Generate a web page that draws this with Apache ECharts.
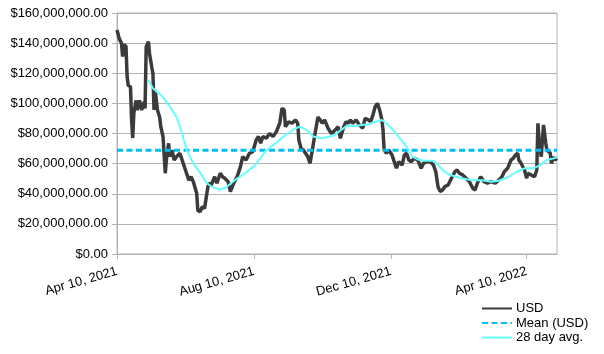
<!DOCTYPE html>
<html>
<head>
<meta charset="utf-8">
<script src="https://cdn.jsdelivr.net/npm/echarts@6/dist/echarts.min.js"></script>
<style>
  html, body { margin: 0; padding: 0; background: #fff; }
  #chart { width: 604px; height: 354px; }
</style>
</head>
<body>
<div id="chart"></div>
<script>
// x values are days counted from Apr 10, 2021
var tickDays = [0, 122, 244, 365];
var tickLabels = ['Apr 10, 2021', 'Aug 10, 2021', 'Dec 10, 2021', 'Apr 10, 2022'];

// daily USD (millions)
var usdDays = [0, 1, 2, 4, 5, 6, 8, 9, 10, 12, 13, 14, 15, 17, 18, 20, 22, 24, 25, 26,
  28, 29, 31, 32, 33, 34, 36, 38, 39, 41, 43, 44, 46, 47, 49, 51, 53, 56, 59, 61,
  64, 66, 68, 71, 72, 74, 76, 78, 81, 82, 84, 87, 89, 92, 94, 96, 99, 101, 104, 107,
  110, 112, 115, 118, 121, 124, 126, 128, 130, 133, 136, 139, 142, 145, 147, 149, 150, 153, 156, 159,
  161, 162, 164, 166, 168, 170, 172, 174, 176, 179, 181, 183, 185, 188, 191, 193, 197, 199, 202, 204,
  206, 208, 210, 213, 216, 219, 221, 224, 226, 228, 230, 232, 234, 236, 237, 238, 240, 242, 245, 247,
  249, 251, 254, 256, 258, 260, 262, 265, 268, 271, 273, 276, 279, 282, 284, 286, 288, 290, 292, 295,
  298, 301, 303, 305, 308, 311, 314, 317, 319, 321, 324, 327, 330, 333, 337, 340, 343, 345, 348, 351,
  353, 355, 357, 358, 360, 363, 365, 366, 369, 372, 374, 375, 376, 378, 379, 380, 382, 383, 386, 387,
  389, 390, 392];
var usdValues = [148.7, 150, 143, 140, 131, 139, 138, 118, 112, 111, 89, 77, 93.4, 102, 95.6, 102, 95.6, 101, 96.7, 137.6,
  141, 133, 124, 120, 95.6, 109, 95.6, 91, 84.5, 78, 53.6, 62.4, 73.5, 64.6, 69, 62.4, 64.6, 66.9, 60.2, 55.8,
  49, 51.3, 48, 40.3, 29, 28, 31.4, 30.3, 44.7, 47, 45.8, 51.3, 47, 53.6, 51.3, 50.3, 48, 41.4, 47, 51.3,
  58, 64.6, 62.4, 66.9, 68, 75.7, 78, 73.5, 78, 76.8, 80, 78, 81.2, 86.8, 96.7, 95.6, 84.5, 87.8, 86.8, 89,
  86.8, 75.7, 70, 69, 66.9, 64.6, 60.2, 69, 78, 91, 89, 86.8, 89, 83.5, 80, 81.2, 84.5, 76.8, 84.5, 87.8,
  86.8, 89, 86.8, 89, 85.7, 83.5, 90, 89, 87.8, 92.3, 97.8, 100, 95.6, 89, 82.3, 69, 66.9, 69, 65.7, 61.3,
  56.9, 61.3, 59, 65.7, 66.9, 62.4, 61.3, 63.5, 62.4, 56.9, 60.2, 61.3, 61.3, 59, 54.6, 44.7, 41.4, 42.5, 44.7, 45.8,
  50.3, 54.6, 55.8, 53.6, 52.5, 50.3, 48, 43.6, 42.5, 47, 51.3, 48, 47, 48, 47, 49, 51.3, 54.6, 56.9, 62.4,
  63.5, 65.7, 66.9, 62.4, 60.2, 55.8, 50.3, 53.6, 52.5, 51.3, 55.8, 86.8, 75.7, 64.6, 75.7, 85.7, 73.5, 69, 67, 60.2,
  64.6, 62.4, 63.5];

// 28 day average (millions)
var avgDays = [28, 32, 41, 47, 53, 58, 62, 68, 74, 80, 86, 92, 96, 105, 114, 123, 132, 141, 150, 159,
  163, 169, 175, 181, 188, 194, 199, 205, 212, 218, 224, 230, 236, 240, 246, 252, 258, 263, 268, 274,
  282, 286, 292, 297, 307, 316, 325, 334, 340, 349, 356, 363, 371, 377, 383, 389, 392];
var avgValues = [115.5, 110, 104, 98, 91, 80, 69, 60, 54, 47, 44, 43, 43.6, 49, 53.6, 59, 68, 73.5, 79, 83.5,
  84.5, 82.3, 78, 76.8, 77.5, 79, 82, 85.2, 85, 85.7, 86.1, 87.8, 89, 86.8, 82.3, 76.8, 71.2, 64.6, 62.8, 61.9,
  61.9, 59, 54.6, 52.5, 50.3, 49, 49, 48, 48.6, 51.3, 54.6, 56.9, 56.9, 59, 62.4, 63.5, 64.4];

var meanUsd = 68.9;
var lastDay = 392;

var M = 1000000;
function pairs(days, vals) {
  return days.map(function (d, i) { return [d, vals[i] * M]; });
}

var chart = echarts.init(document.getElementById('chart'));
var font = 'Liberation Sans, Arial, sans-serif';
var option = {
  animation: false,
  grid: {
    left: 117, top: 13, right: 47, bottom: 100,
    show: true, borderColor: '#b3b3b3', borderWidth: 1
  },
  xAxis: {
    type: 'value',
    min: 0,
    max: lastDay,
    splitLine: { show: false },
    axisLine: { show: true, lineStyle: { color: '#b3b3b3' } },
    axisTick: { show: true, length: 5, customValues: tickDays, lineStyle: { color: '#b3b3b3' } },
    axisLabel: {
      customValues: tickDays,
      rotate: 16,
      margin: 17,
      color: '#000',
      fontSize: 13,
      fontFamily: font,
      formatter: function (v) {
        var i = tickDays.indexOf(v);
        return i < 0 ? '' : tickLabels[i];
      }
    }
  },
  yAxis: {
    type: 'value',
    min: 0,
    max: 160 * M,
    interval: 20 * M,
    axisLine: { show: true, lineStyle: { color: '#b3b3b3' } },
    axisTick: { show: true, length: 5, lineStyle: { color: '#b3b3b3' } },
    splitLine: { lineStyle: { color: '#b3b3b3', width: 1 } },
    axisLabel: {
      margin: 9,
      color: '#000',
      fontSize: 13,
      fontFamily: font,
      formatter: function (v) {
        return '$' + v.toLocaleString('en-US', { minimumFractionDigits: 2, maximumFractionDigits: 2 });
      }
    }
  },
  legend: {
    orient: 'vertical',
    left: 476,
    top: 297,
    itemWidth: 30,
    itemHeight: 14,
    itemGap: 1.5,
    itemStyle: { opacity: 0 },
    textStyle: { fontSize: 13, fontFamily: font, color: '#000', padding: [0, 0, 0, -1] },
    data: ['USD', 'Mean (USD)', '28 day avg.']
  },
  series: [
    {
      name: 'USD',
      type: 'line',
      symbol: 'none',
      data: pairs(usdDays, usdValues),
      lineStyle: { color: '#3b3b3b', width: 3.5 },
      itemStyle: { color: '#3b3b3b' },
      z: 3
    },
    {
      name: 'Mean (USD)',
      type: 'line',
      symbol: 'none',
      data: [[0, meanUsd * M], [lastDay, meanUsd * M]],
      lineStyle: { color: '#00bff0', width: 3, type: [6, 3.5] },
      itemStyle: { color: '#00bff0' },
      z: 4
    },
    {
      name: '28 day avg.',
      type: 'line',
      symbol: 'none',
      data: pairs(avgDays, avgValues),
      lineStyle: { color: '#66ffff', width: 2 },
      itemStyle: { color: '#66ffff' },
      z: 5
    }
  ]
};
chart.setOption(option);
</script>
</body>
</html>
